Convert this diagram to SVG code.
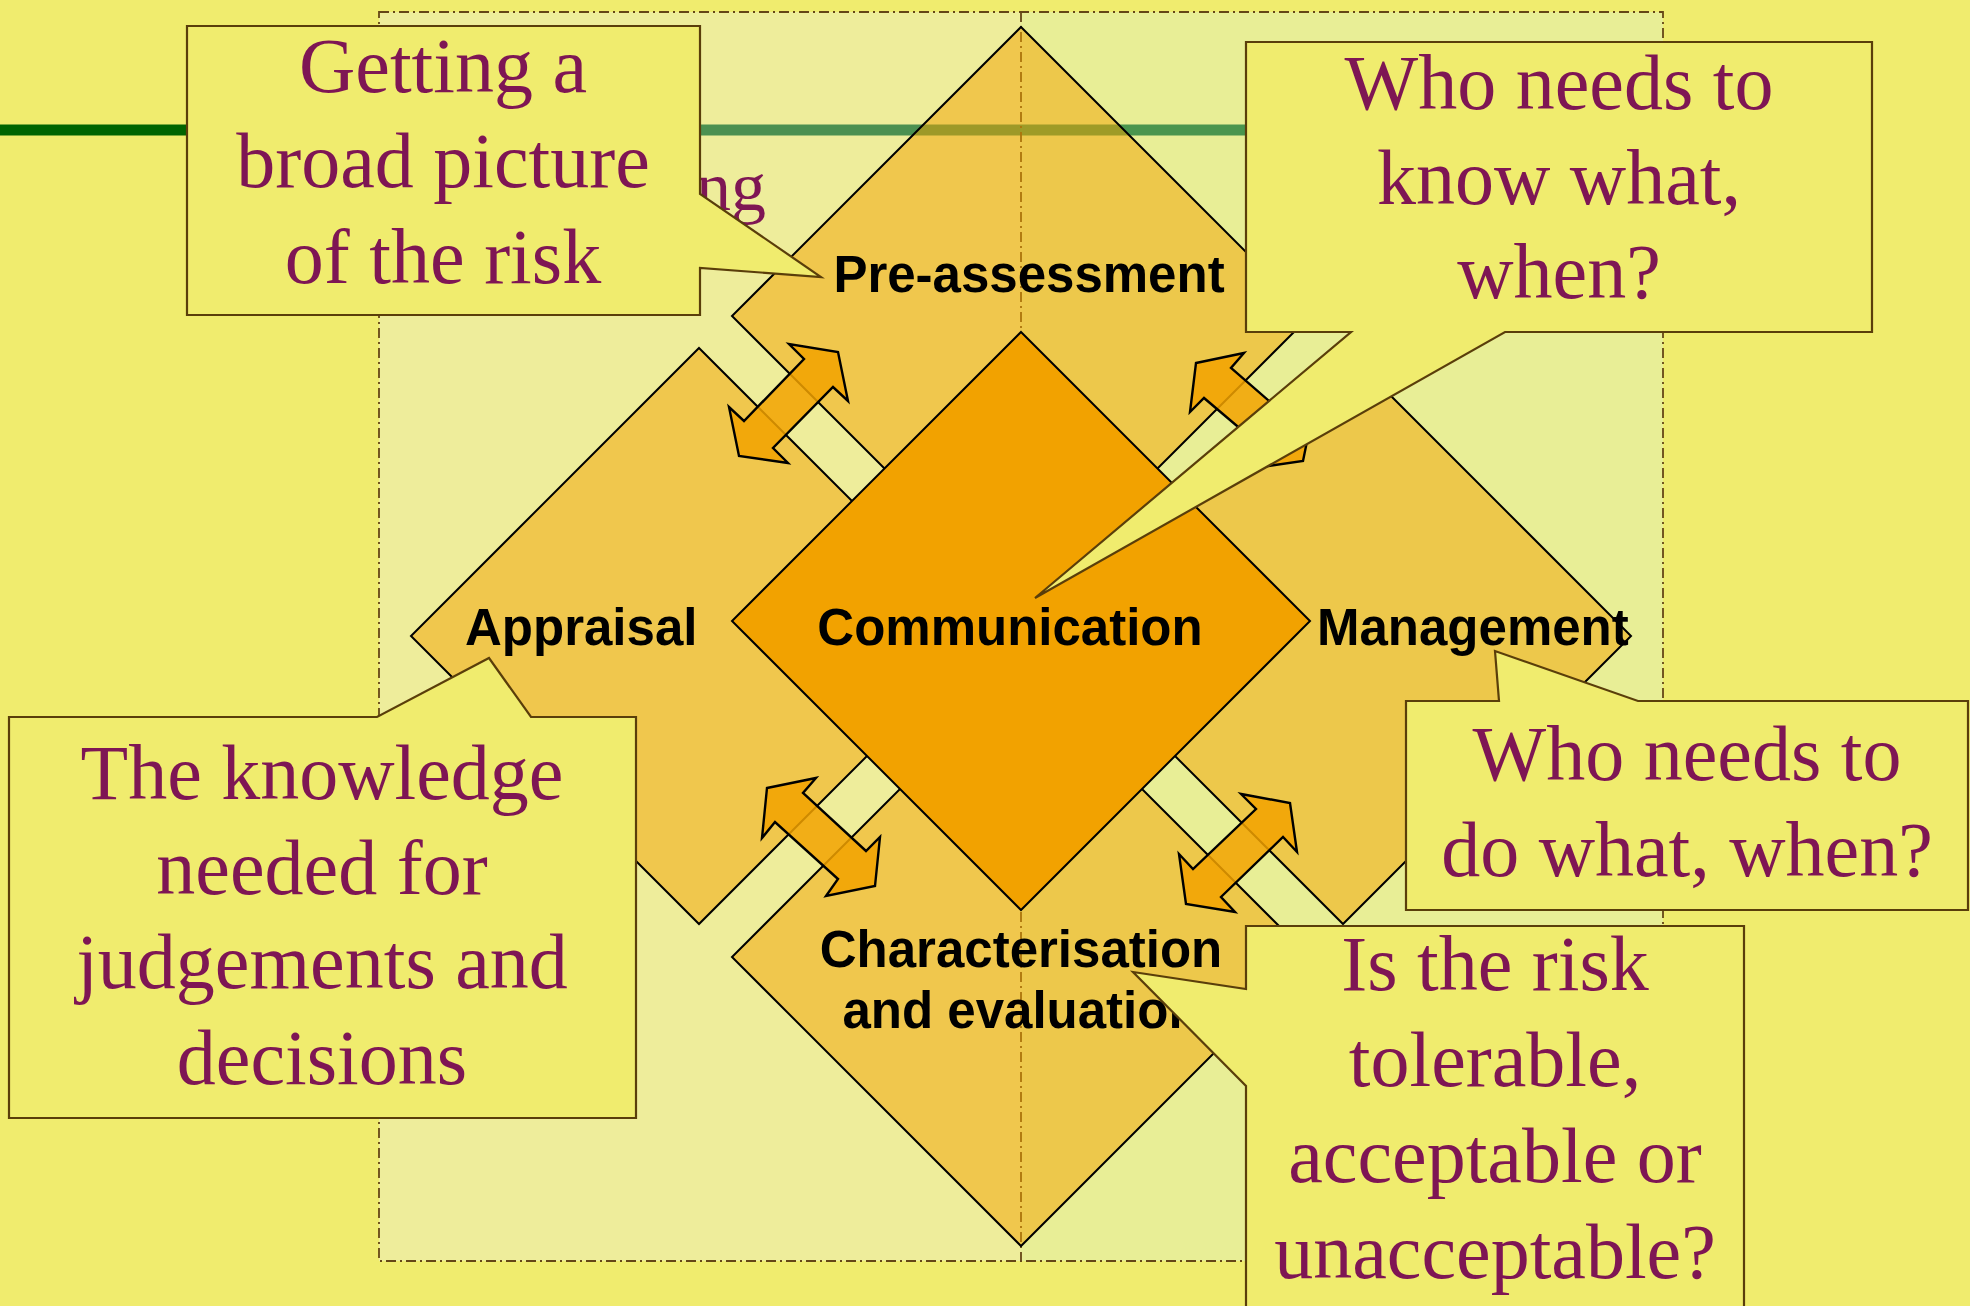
<svg xmlns="http://www.w3.org/2000/svg" width="1970" height="1306" viewBox="0 0 1970 1306">
<style>
.diamond { fill:#F2A200; fill-opacity:0.5; stroke:#000; stroke-width:2; }
.core { fill:#F2A200; stroke:#000; stroke-width:2; }
.arrow { fill:#F2A200; fill-opacity:0.85; stroke:#000; stroke-width:2.4; stroke-linejoin:miter; }
.callout { fill:#F0EC6E; stroke:#5A3E0A; stroke-width:2.2; stroke-linejoin:miter; }
.ctext { font-family:"Liberation Serif","Times New Roman",serif; font-size:78px; fill:#7E1654; text-anchor:middle; }
.label { font-family:"Liberation Sans",Arial,sans-serif; font-weight:bold; font-size:51px; fill:#000; }
.frame { fill:none; stroke:#654616; stroke-width:1.8; stroke-dasharray:10 4 2 4; }
</style>
<rect width="1970" height="1306" fill="#F0EC6E"/>
<line x1="0" y1="130" x2="1500" y2="130" stroke="#006400" stroke-width="11"/>
<g id="frame">
  <rect x="379" y="12" width="642" height="1249" fill="#E9F0FB" fill-opacity="0.32"/>
  <rect x="1021" y="12" width="642" height="1249" fill="#D8F2E6" fill-opacity="0.34"/>
  <line class="frame" x1="1021" y1="12" x2="1021" y2="1261"/>
  <rect class="frame" x="379" y="12" width="1284" height="1249"/>
</g>
<text x="766" y="210" font-family="Liberation Serif, 'Times New Roman', serif" font-size="70" fill="#7E1654" text-anchor="end">ng</text>
<g id="pre-assessment">
  <polygon class="diamond" points="1021,27 1310,316 1021,605 732,316"/>
</g>
<g id="appraisal">
  <polygon class="diamond" points="699,348 987,636 699,924 411,636"/>
</g>
<g id="management">
  <polygon class="diamond" points="1343,348 1631,636 1343,924 1055,636"/>
</g>
<g id="characterisation">
  <polygon class="diamond" points="1021,668 1310,957 1021,1246 732,957"/>
</g>
<g id="communication">
  <polygon class="core" points="1021,332 1310,621 1021,910 732,621"/>
</g>
<g id="connectors">
  <polygon class="arrow" points="838,352 848,401 833,387 773,448 788,463 739,456 729,407 744,421 804,359 789,344"/>
  <polygon class="arrow" points="1196,363 1244,353 1231,368 1298,426 1313,412 1303,461 1254,468 1269,453 1204,398 1190,412"/>
  <polygon class="arrow" points="767,788 816,778 803,793 866,851 880,837 875,886 826,896 838,879 775,822 762,838"/>
  <polygon class="arrow" points="1290,803 1297,852 1283,837 1221,897 1235,912 1186,904 1179,854 1193,869 1256,809 1241,794"/>
</g>
<g id="labels">
  <text class="label" x="1029" y="292" text-anchor="middle">Pre-assessment</text>
  <text class="label" x="1010" y="645" text-anchor="middle">Communication</text>
  <text class="label" x="465" y="645">Appraisal</text>
  <text class="label" x="1317" y="645">Management</text>
  <text class="label" x="1021" y="967" text-anchor="middle">Characterisation</text>
  <text class="label" x="1021" y="1028" text-anchor="middle">and evaluation</text>
</g>
<g id="callout-broad-picture">
  <path class="callout" d="M187,26 H700 V194 L821,277 L700,268 V315 H187 Z"/>
  <text class="ctext" x="443" y="92">Getting a</text>
  <text class="ctext" x="443" y="187">broad picture</text>
  <text class="ctext" x="443" y="283">of the risk</text>
</g>
<g id="callout-know-what">
  <path class="callout" d="M1246,42 H1872 V332 H1505 L1035,598 L1351,332 H1246 Z"/>
  <text class="ctext" x="1559" y="109">Who needs to</text>
  <text class="ctext" x="1559" y="204">know what,</text>
  <text class="ctext" x="1559" y="298">when?</text>
</g>
<g id="callout-knowledge">
  <path class="callout" d="M9,717 H377 L489,658 L531,717 H636 V1118 H9 Z"/>
  <text class="ctext" x="322" y="799">The knowledge</text>
  <text class="ctext" x="322" y="894">needed for</text>
  <text class="ctext" x="322" y="988">judgements and</text>
  <text class="ctext" x="322" y="1084">decisions</text>
</g>
<g id="callout-do-what">
  <path class="callout" d="M1406,701 H1499 L1495,651 L1638,701 H1968 V910 H1406 Z"/>
  <text class="ctext" x="1687" y="780">Who needs to</text>
  <text class="ctext" x="1687" y="876">do what, when?</text>
</g>
<g id="callout-tolerable">
  <path class="callout" d="M1246,926 H1744 V1320 H1246 V1086 L1133,972 L1246,989 Z"/>
  <text class="ctext" x="1495" y="990">Is the risk</text>
  <text class="ctext" x="1495" y="1086">tolerable,</text>
  <text class="ctext" x="1495" y="1182">acceptable or</text>
  <text class="ctext" x="1495" y="1278">unacceptable?</text>
</g>
</svg>
